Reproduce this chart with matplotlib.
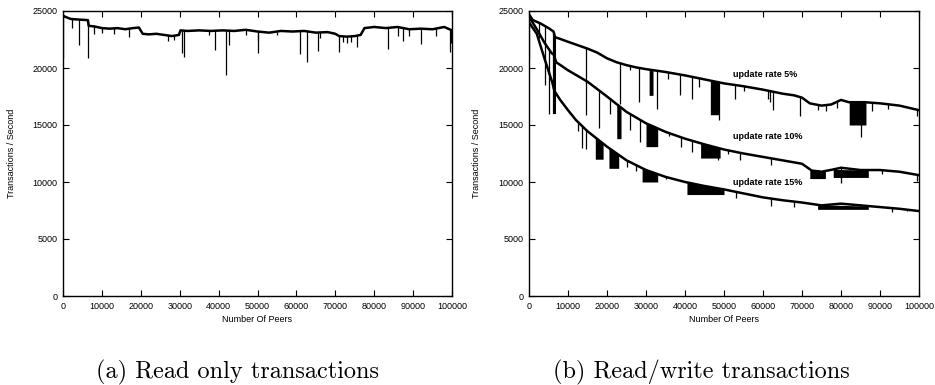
import numpy as np
import matplotlib
matplotlib.use("Agg")
import matplotlib.pyplot as plt

plt.rcParams["font.family"] = ["Liberation Sans", "DejaVu Sans"]

# ---- (a) read only: baseline + downward spikes
ro_x = [0, 500, 2000, 4000, 6400, 6600, 8000, 10000, 12000, 14000, 16000, 18000, 19500,
        20500, 22000, 24000, 26000, 28000, 29800, 30200, 32000, 35000, 38000, 41000, 44000,
        47000, 50000, 53000, 56000, 59000, 62000, 65000, 68000, 70000, 71000, 73000, 75000,
        76500, 77500, 80000, 83000, 86000, 89000, 92000, 95000, 98000, 100000]
ro_y = [24600, 24500, 24300, 24250, 24200, 23700, 23650, 23500, 23450, 23500, 23400, 23500,
        23550, 23000, 22950, 23000, 22900, 22800, 22900, 23300, 23250, 23300, 23250, 23300,
        23250, 23350, 23200, 23100, 23250, 23200, 23250, 23100, 23150, 23000, 22800, 22750,
        22800, 22900, 23500, 23600, 23500, 23600, 23400, 23450, 23400, 23600, 23300]
ro_spike_x = [0, 2200, 4100, 6400, 8000, 10000, 13000, 17000, 27000, 28500, 30600, 31100,
              37500, 39000, 42000, 42600, 47000, 50000, 50200, 55000, 61000, 62700, 65500,
              66000, 71000, 72000, 73000, 74000, 75500, 83500, 86000, 87500, 89000, 92000,
              96000, 99500, 99800]
ro_spike_y = [20900, 23500, 22000, 20900, 23000, 23100, 23000, 22700, 22400, 22500, 21300,
              21000, 22900, 21600, 19400, 22000, 22900, 21300, 22500, 22900, 21200, 20500,
              21500, 22600, 21400, 22300, 22200, 22300, 21800, 21700, 22800, 22400, 22800,
              22100, 22800, 21400, 22200]

# ---- (b) read/write: three update rates
w5_x = [0, 1000, 3000, 5000, 6300, 6700, 8000, 10000, 12500, 15000, 17500, 20000, 22500,
        25000, 27500, 30000, 35000, 40000, 45000, 50000, 55000, 60000, 65000, 68000, 70000,
        72000, 75000, 77500, 80000, 82000, 86000, 90000, 95000, 100000]
w5_y = [24700, 24200, 23900, 23500, 23200, 22700, 22550, 22300, 22000, 21700, 21350, 20850,
        20500, 20250, 20050, 19900, 19650, 19350, 19000, 18650, 18400, 18100, 17750, 17600,
        17400, 16900, 16700, 16800, 17200, 17000, 17000, 16900, 16700, 16300]
w5_spike_x = [0, 2500, 4200, 14700, 23300, 26000, 28200, 32700, 35700, 38800, 41700, 43600,
              48600, 52800, 55000, 61300, 61800, 62600, 69500, 74000, 76100, 79000, 85000,
              88000, 92000, 99400]
w5_spike_y = [20700, 22600, 18500, 18700, 16800, 19800, 17000, 16400, 19000, 17600, 17300,
              18300, 15400, 17300, 18000, 17300, 17000, 16300, 15800, 16300, 16200, 16500,
              13950, 16200, 16400, 15800]
w5_band_x0 = [6000, 30800, 46500, 82100]
w5_band_x1 = [6800, 31800, 48800, 86400]
w5_band_low = [16000, 17600, 15900, 15000]

w10_x = [0, 2000, 4000, 5800, 6300, 7000, 10000, 15000, 20000, 25000, 30000, 35000, 40000,
         45000, 50000, 55000, 60000, 65000, 70000, 72500, 75000, 78000, 80000, 85000, 90000,
         95000, 100000]
w10_y = [24500, 23400, 22200, 21300, 21200, 20500, 19800, 18800, 17500, 16150, 15150, 14400,
         13800, 13300, 12850, 12500, 12200, 11900, 11600, 11000, 10900, 11100, 11250, 11050,
         11050, 10900, 10600]
w10_spike_x = [5100, 14700, 18000, 20800, 26000, 28500, 36000, 39000, 41700, 48500, 51000,
               54000, 62000, 80000, 90500, 99500]
w10_spike_y = [16000, 15900, 14700, 16000, 14600, 13500, 14000, 13100, 12600, 11900, 12500,
               11900, 11500, 9900, 10700, 10100]
w10_band_x0 = [22500, 30000, 44000, 72000, 78000]
w10_band_x1 = [23600, 33000, 49000, 76000, 87000]
w10_band_low = [13800, 13100, 12100, 10300, 10400]

w15_x = [0, 2000, 4000, 6000, 6500, 8000, 10000, 12000, 15000, 20000, 25000, 30000, 35000,
         40000, 45000, 50000, 55000, 60000, 65000, 70000, 75000, 80000, 85000, 90000, 95000,
         100000]
w15_y = [24000, 23000, 20800, 18700, 18000, 17200, 16300, 15450, 14450, 13100, 11900, 11050,
         10450, 10000, 9650, 9350, 9000, 8650, 8400, 8200, 7950, 8100, 7950, 7800, 7650, 7450]
w15_spike_x = [12500, 13500, 14500, 25000, 27500, 35000, 53000, 62000, 68000, 93000, 97000]
w15_spike_y = [14500, 13000, 12900, 11300, 11000, 10300, 8600, 7900, 7800, 7400, 7500]
w15_band_x0 = [17000, 20500, 29000, 40500, 74000]
w15_band_x1 = [19000, 23000, 33000, 50000, 87000]
w15_band_low = [12000, 11200, 10000, 8900, 7600]

labels_b = ["update rate 5%", "update rate 10%", "update rate 15%"]
label_pos_y = [19460, 14020, 9980]

captions = ["(a) Read only transactions", "(b) Read/write transactions"]


def draw_series(ax, xs, ys, sx, sy, bx0=(), bx1=(), blow=()):
    ax.plot(xs, ys, color="black", lw=1.8, solid_joinstyle="round")
    tops = np.interp(sx, xs, ys)
    ax.vlines(sx, sy, tops, color="black", lw=0.9)
    for a, b, low in zip(bx0, bx1, blow):
        top = np.interp([a, b], xs, ys)
        ax.fill_between([a, b], [low, low], top, color="black", lw=0)


def style_axes(ax):
    ax.set_xlim(0, 100000)
    ax.set_ylim(0, 25000)
    ax.set_xticks(np.arange(0, 100001, 10000))
    ax.set_yticks(np.arange(0, 25001, 5000))
    ax.tick_params(direction="in", top=True, right=True, length=4, width=0.8,
                   labelsize=6.5, pad=4)
    for s in ax.spines.values():
        s.set_linewidth(1.0)
    ax.set_xlabel("Number Of Peers", fontsize=6.5, labelpad=3)
    ax.set_ylabel("Transactions / Second", fontsize=6.5)
    ax.yaxis.set_label_coords(-0.122, 0.5)


fig = plt.figure(figsize=(9.35, 3.85), dpi=100)
ax1 = fig.add_axes([63 / 935, 89 / 385, 389 / 935, 285 / 385])
ax2 = fig.add_axes([529 / 935, 89 / 385, 390 / 935, 285 / 385])

draw_series(ax1, ro_x, ro_y, ro_spike_x, ro_spike_y)
style_axes(ax1)

draw_series(ax2, w5_x, w5_y, w5_spike_x, w5_spike_y, w5_band_x0, w5_band_x1, w5_band_low)
draw_series(ax2, w10_x, w10_y, w10_spike_x, w10_spike_y, w10_band_x0, w10_band_x1, w10_band_low)
draw_series(ax2, w15_x, w15_y, w15_spike_x, w15_spike_y, w15_band_x0, w15_band_x1, w15_band_low)
for txt, yv in zip(labels_b, label_pos_y):
    ax2.text(52300, yv, txt, fontsize=6.5, fontweight="bold", va="center", ha="left")
style_axes(ax2)

fig.text(237 / 935, 13 / 385, captions[0], family="cmr10", fontsize=17.5, ha="center", va="center")
fig.text(701 / 935, 13 / 385, captions[1], family="cmr10", fontsize=17.5, ha="center", va="center")

fig.savefig("out.png", dpi=100)
